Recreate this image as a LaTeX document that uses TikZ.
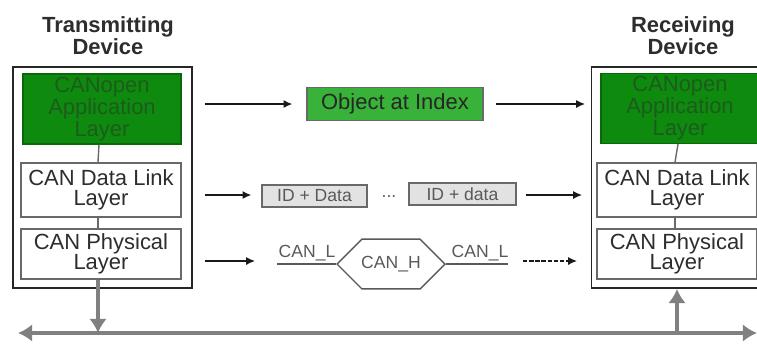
\documentclass[tikz,border=0pt]{standalone}
\usepackage{fontspec}
\setmainfont{Liberation Sans}
\usetikzlibrary{arrows.meta,shapes.misc}
\definecolor{appgreen}{RGB}{14,138,14}
\definecolor{apptext}{RGB}{28,92,28}
\definecolor{objgreen}{RGB}{56,178,56}
\definecolor{boxgray}{RGB}{105,105,105}
\definecolor{textgray}{RGB}{45,45,45}
\definecolor{idfill}{RGB}{226,226,226}
\definecolor{busgray}{RGB}{128,128,128}
\begin{document}
\begin{tikzpicture}[x=0.02cm,y=-0.02cm,
  devbox/.style={draw=black!85, line width=1.1pt, minimum width=3.58cm, minimum height=4.42cm, inner sep=0pt},
  title/.style={align=center, text=textgray, font=\bfseries\fontsize{12.5}{12.5}\selectfont},
  applayer/.style={fill=appgreen, draw=appgreen!75!black, line width=0.6pt, minimum width=3.16cm, minimum height=1.4cm, text=apptext, align=center, font=\fontsize{12.5}{12.5}\selectfont, inner sep=0pt},
  layerbox/.style={draw=boxgray, line width=0.9pt, fill=white, minimum width=3.2cm, align=center, text=textgray, font=\fontsize{12.5}{11.5}\selectfont, inner sep=0pt},
  objbox/.style={fill=objgreen, draw=boxgray, line width=0.8pt, minimum width=3.52cm, minimum height=0.66cm, text=black!85, font=\fontsize{12.5}{12.5}\selectfont, inner sep=0pt},
  idbox/.style={fill=idfill, draw=boxgray, line width=0.8pt, minimum height=0.44cm, text=black!65, font=\fontsize{10}{10}\selectfont, inner sep=0pt},
  hexbox/.style={chamfered rectangle, chamfered rectangle xsep=0.4cm, chamfered rectangle ysep=0.34cm, draw=black!65, line width=0.8pt, minimum width=2.16cm, minimum height=0.7cm, text=black!65, font=\fontsize{10}{10}\selectfont, inner sep=0pt},
  sig/.style={text=black!65, font=\fontsize{10}{10}\selectfont, inner sep=0pt},
  sigline/.style={draw=black!65, line width=0.8pt},
  msg/.style={draw=black!90, line width=0.7pt, -{Latex[length=5pt,width=4.5pt]}},
  bus/.style={draw=busgray, line width=2.8pt, -{Latex[length=8pt,width=10pt]}},
  busboth/.style={draw=busgray, line width=2.8pt, {Latex[length=8pt,width=10pt]}-{Latex[length=8pt,width=10pt]}},
  link/.style={draw=boxgray, line width=0.8pt}
]
\useasboundingbox (0,0) rectangle (757,343);

% titles
\node[title] (ttx) at (108,36) {Transmitting\\Device};
\node[title] (trx) at (683,36) {Receiving\\Device};

% transmitting device
\node[devbox] (tx) at (102.5,177.5) {};
\node[applayer] (lapp) at (102,109) {CANopen\\Application\\Layer};
\node[layerbox, minimum height=1.08cm] (ldl) at (101,190) {CAN Data Link\\Layer};
\node[layerbox, minimum height=1.0cm] (lph) at (101,254) {CAN Physical\\Layer};
\draw[link] ([xshift=-0.06cm]lapp.south) -- ([xshift=-0.06cm]ldl.north);
\draw[link] ([xshift=-0.06cm]ldl.south) -- ([xshift=-0.06cm]lph.north);

% receiving device
\node[devbox] (rx) at (681,177.5) {};
\node[applayer] (rapp) at (680,108.5) {CANopen\\Application\\Layer};
\node[layerbox, minimum height=1.08cm] (rdl) at (677,190) {CAN Data Link\\Layer};
\node[layerbox, minimum height=1.0cm] (rph) at (677,254) {CAN Physical\\Layer};
\draw[link] ([xshift=-0.04cm]rapp.south) -- ([xshift=-0.04cm]rdl.north);
\draw[link] ([xshift=-0.04cm]rdl.south) -- ([xshift=-0.04cm]rph.north);

% row 1
\coordinate (r1a) at (205,104);
\coordinate (r1b) at (585,104);
\node[objbox] (obj) at (395,104) {Object at Index};
\draw[msg, shorten >=0.28cm] (r1a) -- (obj.west);
\draw[msg, shorten <=0.24cm] (obj.east) -- (r1b);

% row 2
\coordinate (r2a) at (205,195);
\coordinate (r2b) at (582,195);
\node[idbox, minimum width=2.1cm] (id1) at (314.5,196) {ID + Data};
\node[sig] (dots) at (389,197) {...};
\node[idbox, minimum width=2.14cm] (id2) at (462.5,194) {ID + data};
\draw[msg, shorten >=0.2cm] (r2a) -- (id1.west |- r2a);
\draw[msg, shorten <=0.18cm] (id2.east |- r2b) -- (r2b);

% row 3
\coordinate (r3a) at (205,261);
\coordinate (r3b) at (255,261);
\coordinate (r3c) at (523,261);
\coordinate (r3d) at (577,261);
\draw[msg] (r3a) -- (r3b);
\node[hexbox] (hex) at (391,264) {CAN\_H};
\coordinate (cl1) at (277,264);
\coordinate (cl2) at (508,264);
\draw[sigline] (cl1) -- (hex.west);
\draw[sigline] (hex.east) -- (cl2);
\node[sig, anchor=base] (canl1) at (307,257) {CAN\_L};
\node[sig, anchor=base] (canl2) at (480,257) {CAN\_L};
\draw[msg, dash pattern=on 2.5pt off 1pt] (r3c) -- (r3d);

% bus
\coordinate (busL) at (18,333);
\coordinate (busR) at (757,333);
\draw[busboth] (busL) -- (busR);
\draw[bus] (lph.south -| 98,0) -- (98,333);
\draw[bus] (677,333) -- (rx.south -| 677,0);
\end{tikzpicture}
\end{document}
